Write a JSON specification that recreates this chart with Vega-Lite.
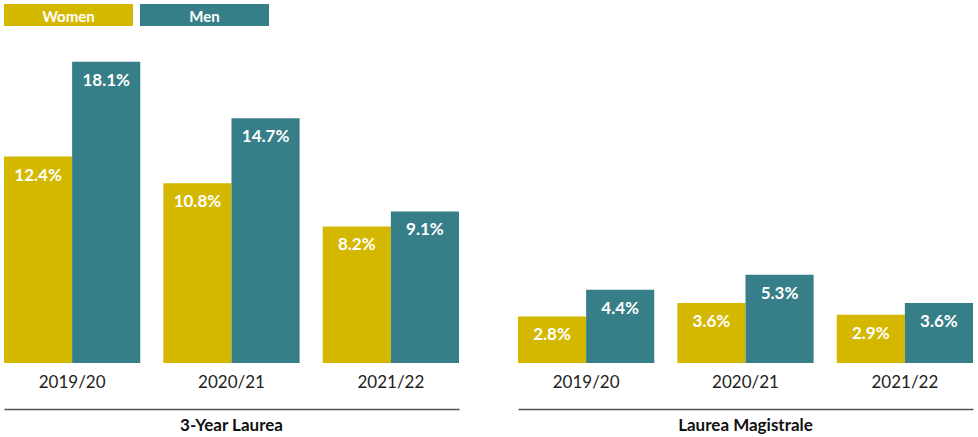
{
  "$schema": "https://vega.github.io/schema/vega-lite/v6.json",
  "padding": {"left": 4, "top": 4, "right": 5, "bottom": 0},
  "background": "white",
  "config": {
    "view": {"stroke": null},
    "font": "Lato",
    "facet": {"spacing": 59}
  },
  "data": {
    "values": [
      {"program": "3-Year Laurea", "year": "2019/20", "gender": "Women", "value": 0.124},
      {"program": "3-Year Laurea", "year": "2019/20", "gender": "Men", "value": 0.181},
      {"program": "3-Year Laurea", "year": "2020/21", "gender": "Women", "value": 0.108},
      {"program": "3-Year Laurea", "year": "2020/21", "gender": "Men", "value": 0.147},
      {"program": "3-Year Laurea", "year": "2021/22", "gender": "Women", "value": 0.082},
      {"program": "3-Year Laurea", "year": "2021/22", "gender": "Men", "value": 0.091},
      {"program": "Laurea Magistrale", "year": "2019/20", "gender": "Women", "value": 0.028},
      {"program": "Laurea Magistrale", "year": "2019/20", "gender": "Men", "value": 0.044},
      {"program": "Laurea Magistrale", "year": "2020/21", "gender": "Women", "value": 0.036},
      {"program": "Laurea Magistrale", "year": "2020/21", "gender": "Men", "value": 0.053},
      {"program": "Laurea Magistrale", "year": "2021/22", "gender": "Women", "value": 0.029},
      {"program": "Laurea Magistrale", "year": "2021/22", "gender": "Men", "value": 0.036}
    ]
  },
  "facet": {
    "column": {
      "field": "program",
      "type": "nominal",
      "sort": ["3-Year Laurea", "Laurea Magistrale"],
      "header": {
        "title": null,
        "labelOrient": "bottom",
        "labelFontWeight": "bold",
        "labelFontSize": 17,
        "labelColor": "#111111",
        "labelPadding": 9
      }
    }
  },
  "spec": {
    "width": 455,
    "height": 323,
    "encoding": {
      "x": {
        "field": "year",
        "type": "nominal",
        "scale": {"paddingInner": 0.145, "paddingOuter": 0},
        "axis": {
          "title": null,
          "ticks": false,
          "offset": 46,
          "labelAngle": 0,
          "labelPadding": -27,
          "labelBaseline": "middle",
          "labelFontSize": 17,
          "labelColor": "#222222",
          "domainColor": "#555555",
          "domainWidth": 1.5
        }
      },
      "xOffset": {"field": "gender", "sort": ["Women", "Men"], "scale": {"paddingInner": 0, "paddingOuter": 0}},
      "y": {"field": "value", "type": "quantitative", "scale": {"domain": [0, 0.194]}, "axis": null}
    },
    "layer": [
      {
        "mark": {"type": "bar"},
        "encoding": {
          "color": {
            "field": "gender",
            "type": "nominal",
            "scale": {"domain": ["Women", "Men"], "range": ["#D4B800", "#367E88"]},
            "legend": {
              "title": null,
              "orient": "top",
              "direction": "horizontal",
              "offset": 14,
              "symbolType": "M-1,-1H10.727V1H-1Z",
              "symbolSize": 484,
              "symbolStrokeWidth": 0,
              "symbolOpacity": 1,
              "labelOffset": 42.5,
              "labelAlign": "center",
              "labelBaseline": "middle",
              "labelColor": "white",
              "labelFontWeight": "bold",
              "labelFontSize": 15,
              "columnPadding": 7,
              "encode": {"labels": {"update": {"dy": {"value": 2}}}}
            }
          }
        }
      },
      {
        "mark": {"type": "text", "color": "white", "fontWeight": "bold", "fontSize": 17, "baseline": "middle", "dy": 19},
        "encoding": {"text": {"field": "value", "type": "quantitative", "format": ".1%"}}
      }
    ]
  }
}
